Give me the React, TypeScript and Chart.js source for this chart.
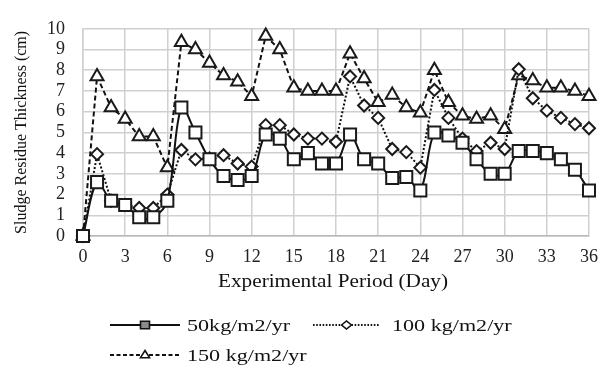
import React, { useEffect, useRef } from 'react';
import { Chart, registerables } from 'chart.js';

Chart.register(...registerables);

const days = [0, 1, 2, 3, 4, 5, 6, 7, 8, 9, 10, 11, 12, 13, 14, 15, 16, 17, 18, 19, 20, 21, 22, 23, 24, 25, 26, 27, 28, 29, 30, 31, 32, 33, 34, 35, 36];
const s50 = [0, 2.6, 1.7, 1.5, 0.9, 0.9, 1.7, 6.2, 5.0, 3.7, 2.9, 2.7, 2.9, 4.9, 4.7, 3.7, 4.0, 3.5, 3.5, 4.9, 3.7, 3.5, 2.8, 2.85, 2.2, 5.0, 4.85, 4.5, 3.7, 3.0, 3.0, 4.1, 4.1, 4.0, 3.7, 3.2, 2.2];
const s100 = [0, 3.95, 1.7, 1.5, 1.35, 1.35, 2.0, 4.15, 3.7, 3.75, 3.9, 3.5, 3.35, 5.35, 5.35, 4.9, 4.7, 4.7, 4.55, 7.7, 6.3, 5.7, 4.2, 4.05, 3.3, 7.05, 5.7, 4.7, 4.1, 4.5, 4.2, 8.05, 6.65, 6.05, 5.7, 5.4, 5.2];
const s150 = [0, 7.7, 6.2, 5.65, 4.8, 4.8, 3.3, 9.35, 9.0, 8.35, 7.75, 7.45, 6.75, 9.65, 9.0, 7.15, 7.0, 7.0, 7.0, 8.8, 7.6, 6.45, 6.8, 6.2, 5.95, 8.0, 6.45, 5.8, 5.65, 5.8, 5.15, 7.75, 7.5, 7.15, 7.15, 7.0, 6.75];
const seriesNames = ['50kg/m2/yr', '100 kg/m2/yr', '150 kg/m2/yr'];
const xTitle = 'Experimental Period (Day)';
const yTitle = 'Sludge Residue Thickness (cm)';
const xMin = 0;
const xMax = 36;
const xStep = 3;
const yMin = 0;
const yMax = 10;
const yStep = 1;

const SERIF = '"Liberation Serif", "Times New Roman", serif';

function drawMarker(ctx: CanvasRenderingContext2D, style: string, x: number, y: number, r: number, fill: string) {
  ctx.save();
  ctx.beginPath();
  if (style === 'rect') {
    ctx.rect(x - r, y - r * 0.85, 2 * r, 1.7 * r);
  } else if (style === 'diamond') {
    ctx.moveTo(x - r * 1.1, y);
    ctx.lineTo(x, y - r * 0.9);
    ctx.lineTo(x + r * 1.1, y);
    ctx.lineTo(x, y + r * 0.9);
    ctx.closePath();
  } else {
    ctx.moveTo(x, y - r);
    ctx.lineTo(x + r * 1.0, y + r * 0.6);
    ctx.lineTo(x - r * 1.0, y + r * 0.6);
    ctx.closePath();
  }
  ctx.setLineDash([]);
  ctx.fillStyle = fill;
  ctx.fill();
  ctx.lineWidth = 1.6;
  ctx.strokeStyle = '#111';
  ctx.stroke();
  ctx.restore();
}

const legendItems = [
  { x0: 110, x1: 180, y: 325, base: 331, dash: [] as number[], marker: 'rect', fill: '#8a8a8a', textX: 187 },
  { x0: 313, x1: 380, y: 325, base: 331, dash: [1.6, 1.6], marker: 'diamond', fill: '#ffffff', textX: 392 },
  { x0: 110, x1: 180, y: 355, base: 361, dash: [4, 2.5], marker: 'triangle', fill: '#ffffff', textX: 187 },
];

const textPlugin = {
  id: 'textPlugin',
  afterDraw(chart: any) {
    const ctx: CanvasRenderingContext2D = chart.ctx;
    const area = chart.chartArea;
    ctx.save();
    ctx.fillStyle = '#111';

    // Y axis title
    ctx.save();
    ctx.translate(22, (area.top + area.bottom) / 2);
    ctx.rotate(-Math.PI / 2);
    ctx.font = `16px ${SERIF}`;
    ctx.textAlign = 'center';
    ctx.textBaseline = 'middle';
    ctx.fillText(yTitle, 0, 0);
    ctx.restore();

    // X axis title
    ctx.save();
    ctx.translate((area.left + area.right) / 2 - 3, 287);
    ctx.scale(1.18, 1);
    ctx.font = `18px ${SERIF}`;
    ctx.textAlign = 'center';
    ctx.textBaseline = 'alphabetic';
    ctx.fillText(xTitle, 0, 0);
    ctx.restore();

    // Legend
    legendItems.forEach((it, i) => {
      ctx.save();
      ctx.beginPath();
      ctx.strokeStyle = '#111';
      ctx.lineWidth = 2;
      ctx.setLineDash(it.dash);
      ctx.moveTo(it.x0, it.y);
      ctx.lineTo(it.x1, it.y);
      ctx.stroke();
      ctx.restore();
      drawMarker(ctx, it.marker, (it.x0 + it.x1) / 2, it.y, 4.5, it.fill);
      ctx.save();
      ctx.translate(it.textX, it.base);
      ctx.scale(1.3, 1);
      ctx.font = `17px ${SERIF}`;
      ctx.textAlign = 'left';
      ctx.textBaseline = 'alphabetic';
      ctx.fillStyle = '#111';
      ctx.fillText(seriesNames[i], 0, 0);
      ctx.restore();
    });
    ctx.restore();
  },
};

export default function App() {
  const canvasRef = useRef<HTMLCanvasElement | null>(null);

  useEffect(() => {
    document.body.style.margin = '0';
    const canvas = canvasRef.current;
    if (!canvas) return;
    const toPts = (s: number[]) => days.map((d, i) => ({ x: d, y: s[i] }));
    const common = {
      borderColor: '#111',
      borderWidth: 2,
      pointBackgroundColor: '#ffffff',
      pointBorderColor: '#1a1a1a',
      pointBorderWidth: 2,
      clip: false as any,
    };
    const chart = new Chart(canvas, {
      type: 'line',
      data: {
        datasets: [
          {
            ...common,
            label: seriesNames[0],
            data: toPts(s50),
            pointStyle: 'rect',
            pointRadius: 8.5,
            tension: 0.35,
          },
          {
            ...common,
            label: seriesNames[1],
            data: toPts(s100),
            pointStyle: 'rectRot',
            pointRadius: 6,
            borderDash: [2, 2],
            tension: 0,
          },
          {
            ...common,
            label: seriesNames[2],
            data: toPts(s150),
            pointStyle: 'triangle',
            pointRadius: 7.5,
            borderDash: [5, 3],
            tension: 0,
          },
        ],
      },
      options: {
        animation: false,
        responsive: false,
        devicePixelRatio: 1,
        layout: { padding: { top: 16, right: 16, left: 0, bottom: 0 } },
        plugins: {
          legend: { display: false },
          tooltip: { enabled: false },
        },
        scales: {
          x: {
            type: 'linear',
            min: xMin,
            max: xMax,
            ticks: {
              stepSize: xStep,
              autoSkip: false,
              maxRotation: 0,
              padding: 10,
              color: '#222',
              font: { family: SERIF, size: 18 },
            },
            grid: { color: '#d0d0d0', lineWidth: 1.5, drawTicks: false },
            border: { color: '#b8b8b8', width: 1.5 },
            afterFit: (s: any) => {
              s.height = 129;
            },
          },
          y: {
            min: yMin,
            max: yMax,
            ticks: {
              stepSize: yStep,
              autoSkip: false,
              padding: 18,
              color: '#222',
              font: { family: SERIF, size: 18 },
            },
            grid: { color: '#d0d0d0', lineWidth: 1.5, drawTicks: false },
            border: { color: '#d0d0d0', width: 1.5 },
            afterFit: (s: any) => {
              s.width = 83;
            },
          },
        },
      },
      plugins: [textPlugin],
    });
    return () => chart.destroy();
  }, []);

  return (
    <div style={{ width: 608, height: 365 }}>
      <canvas ref={canvasRef} width={608} height={365} style={{ display: 'block' }} />
    </div>
  );
}
